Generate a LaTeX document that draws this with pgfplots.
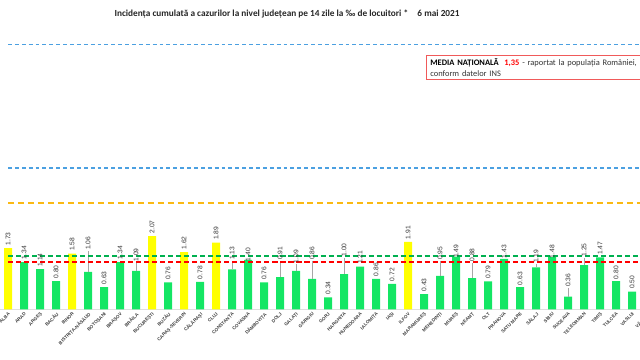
\documentclass[border=0pt]{standalone}
\usepackage{pgfplots}
\pgfplotsset{compat=1.18}
\usepackage{pgfplotstable}
\usepackage{fontspec}
\setmainfont{Carlito}
\newfontfamily\arialf{Liberation Sans}
\definecolor{bargreen}{RGB}{20,230,100}
\definecolor{baryellow}{RGB}{255,255,0}
\definecolor{lgreen}{RGB}{0,176,80}
\definecolor{lblue}{RGB}{75,160,225}
\definecolor{lgold}{RGB}{250,185,20}
\definecolor{boxred}{RGB}{240,90,90}

% x = position, v = value, ly = label position, lead = leader line length, c = 1 yellow / 0 green
\pgfplotstableread{
x v ly lead c
0 1.73 1.80 0 1
1 1.34 1.41 0 0
2 1.14 1.21 0 0
3 0.80 0.87 0 0
4 1.58 1.65 0 1
5 1.06 1.68 0.59 0
6 0.63 0.70 0 0
7 1.34 1.41 0 0
8 1.09 1.35 0.23 0
9 2.07 2.14 0 1
10 0.76 0.83 0 0
11 1.62 1.69 0 1
12 0.78 0.85 0 0
13 1.89 1.96 0 1
14 1.13 1.40 0.24 0
15 1.40 1.36 0 0
16 0.76 0.83 0 0
17 0.91 1.40 0.46 0
18 1.09 1.30 0.18 0
19 0.86 1.40 0.51 0
20 0.34 0.41 0 0
21 1.00 1.49 0.46 0
22 1.21 1.28 0 0
23 0.86 0.93 0 0
24 0.72 0.79 0 0
25 1.91 1.98 0 1
26 0.43 0.50 0 0
27 0.95 1.40 0.42 0
28 1.49 1.45 0 0
29 0.88 1.35 0.44 0
30 0.79 0.86 0 0
31 1.43 1.44 0 0
32 0.63 0.68 0 0
33 1.19 1.31 0.09 0
34 1.48 1.44 0 0
35 0.36 0.63 0.24 0
36 1.25 1.49 0.21 0
37 1.47 1.54 0 0
38 0.80 0.85 0 0
39 0.50 0.57 0 0
}\data

\begin{document}
\begin{tikzpicture}
\useasboundingbox (0,-1.2425) rectangle (16,7.7325);
\clip (0,-1.2425) rectangle (16,7.7325);
\begin{axis}[
  at={(0,0)}, anchor=south west, scale only axis,
  width=16.4cm, height=7.7325cm,
  xmin=-0.5, xmax=40.5, ymin=0, ymax=8.762,
  axis x line=bottom, axis y line=none,
  x axis line style={draw=gray!25, line width=0.4pt, -},
  xtick={0,...,40},
  xticklabels={ALBA,ARAD,ARGEȘ,BACĂU,BIHOR,BISTRIȚA-NĂSĂUD,BOTOȘANI,BRAȘOV,BRĂILA,BUCUREȘTI,BUZĂU,CARAȘ-SEVERIN,CĂLĂRAȘI,CLUJ,CONSTANȚA,COVASNA,DÂMBOVIȚA,DOLJ,GALAȚI,GIURGIU,GORJ,HARGHITA,HUNEDOARA,IALOMIȚA,IAȘI,ILFOV,MARAMUREȘ,MEHEDINȚI,MUREȘ,NEAMȚ,OLT,PRAHOVA,SATU MARE,SĂLAJ,SIBIU,SUCEAVA,TELEORMAN,TIMIȘ,TULCEA,VASLUI,VÂLCEA},
  major tick length=0pt,
  x tick label style={rotate=45, anchor=north east, inner sep=1.2pt,
    font=\arialf\bfseries\fontsize{3.3}{3.5}\selectfont, text=black!75},
  clip=true,
]
\addplot[ybar, bar width=0.2cm, bar shift=0pt, draw=none, fill=bargreen,
  restrict expr to domain={\thisrow{c}}{-0.5:0.5}] table[x=x,y=v]{\data};
\addplot[ybar, bar width=0.2cm, bar shift=0pt, draw=none, fill=baryellow,
  restrict expr to domain={\thisrow{c}}{0.5:1.5}] table[x=x,y=v]{\data};
% leader lines
\addplot[draw=none, mark=none,
  restrict expr to domain={\thisrow{lead}}{0.001:10},
  error bars/.cd, y dir=plus, y explicit, error mark=none,
  error bar style={draw=gray!70, line width=0.35pt}]
  table[x=x, y=v, y error=lead]{\data};
% value labels
\addplot[draw=none, mark=none, point meta=\thisrow{v},
  nodes near coords={\pgfmathprintnumber[fixed,fixed zerofill,precision=2,assume math mode=true]{\pgfplotspointmeta}},
  every node near coord/.append style={rotate=90, anchor=west, inner sep=0pt,
    font=\arialf\fontsize{4.75}{5}\selectfont, text=black!80}]
  table[x=x,y=ly]{\data};
% threshold lines
\addplot[lblue, line width=0.9pt, dash pattern=on 2.8pt off 2.1pt] coordinates {(0,7.5) (41,7.5)};
\addplot[lblue, line width=0.9pt, dash pattern=on 2.8pt off 2.1pt] coordinates {(0,4) (41,4)};
\addplot[lgold, line width=1.3pt, dash pattern=on 4.3pt off 2.8pt] coordinates {(0,3) (41,3)};
\addplot[lgreen, line width=1.4pt, dash pattern=on 3.6pt off 2.1pt] coordinates {(0,1.5) (41,1.5)};
\addplot[red, line width=1.4pt, dash pattern=on 3.6pt off 2.1pt] coordinates {(0,1.35) (41,1.35)};
\node[font=\bfseries\fontsize{6.6}{7}\selectfont, text=black!85] at (axis cs:17.44,8.37)
  {Incidența cumulată a cazurilor la nivel județean pe 14 zile la ‰ de locuitori *\quad 6 mai 2021};
\node[draw=boxred, line width=0.5pt, anchor=north west, text width=5.6cm,
  minimum height=0.6075cm, inner xsep=0.1cm, inner ysep=0.05cm, align=left,
  font=\fontsize{6}{8}\selectfont, text=black!80] at (axis cs:26.125,7.20)
  {\textbf{\color{black}MEDIA NAȚIONALĂ}\ \ \textcolor{red}{\textbf{1,35}} - raportat la populația României,\\ conform datelor INS};
\end{axis}
\end{tikzpicture}
\end{document}
